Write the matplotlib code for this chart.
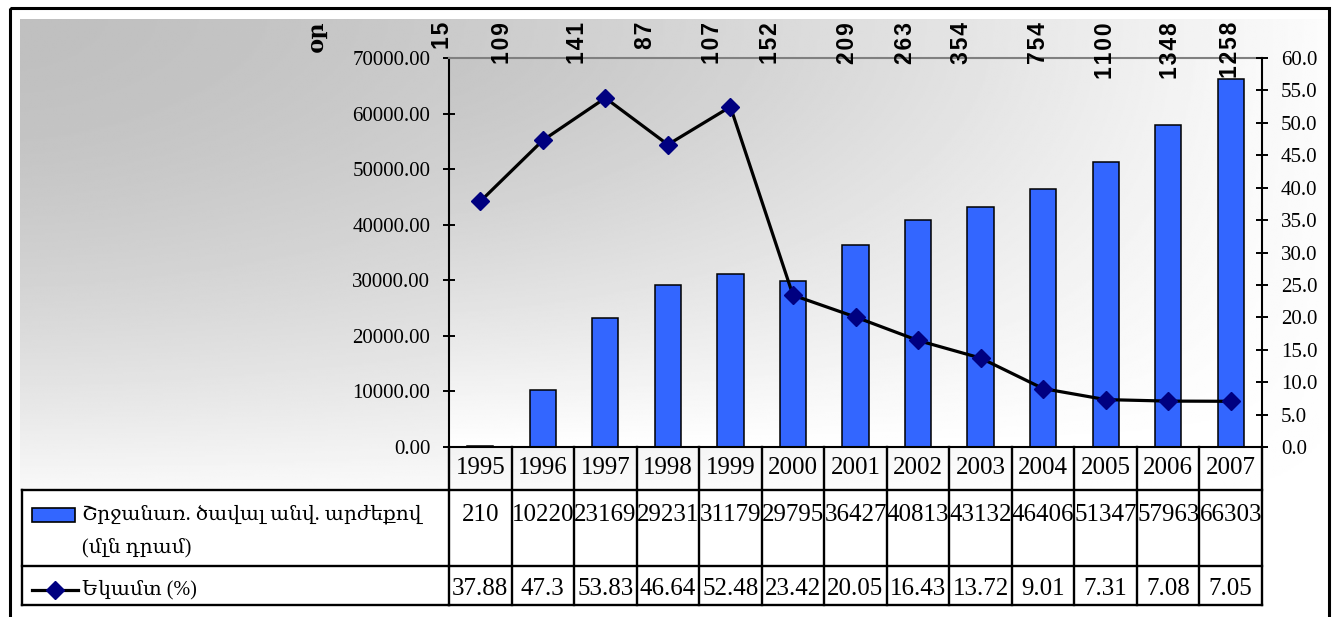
import numpy as np
import matplotlib
matplotlib.use("Agg")
import matplotlib.pyplot as plt
from matplotlib.patches import Rectangle
from matplotlib.lines import Line2D
from matplotlib.ticker import FormatStrFormatter
from matplotlib.transforms import blended_transform_factory

# dane
years = ['1995', '1996', '1997', '1998', '1999', '2000', '2001',
         '2002', '2003', '2004', '2005', '2006', '2007']
turnover = [210, 10220, 23169, 29231, 31179, 29795, 36427,
            40813, 43132, 46406, 51347, 57963, 66303]
yield_pct = [37.88, 47.3, 53.83, 46.64, 52.48, 23.42, 20.05,
             16.43, 13.72, 9.01, 7.31, 7.08, 7.05]
days = [15, 109, 141, 87, 107, 152, 209, 263, 354, 754, 1100, 1348, 1258]

bar_label = ['Շրջանառ. ծավալ անվ. արժեքով', '(մլն դրամ)']
line_label = 'Եկամտ (%)'
days_label = 'օր'

plt.rcParams['font.family'] = ['Liberation Serif', 'DejaVu Serif']

W, H = 1335, 617
fig = plt.figure(figsize=(W / 100, H / 100), dpi=100)

# tlo w pikselach
bg = fig.add_axes([0, 0, 1, 1], zorder=-5)
gx = np.linspace(0, 1, 500)
gy = np.linspace(0, 1, 250)
U, V = np.meshgrid(gx, gy)
t = 1 - (1 - 0.95 * U ** 1.5) * (1 - 0.9 * V ** 1.8)
bg.imshow(0.75 + 0.25 * t, cmap='gray', vmin=0, vmax=1, aspect='auto',
          extent=(20, 1329, 490, 19), interpolation='bilinear')
# obszar wykresu
a = 0.06 + 0.85 * U ** 1.3
b = V ** 1.5
t2 = 1 - (1 - a) * (1 - b)
bg.imshow(0.76 + 0.24 * t2, cmap='gray', vmin=0, vmax=1, aspect='auto',
          extent=(449, 1262, 447, 58), interpolation='bilinear')
bg.set_xlim(0, W)
bg.set_ylim(H, 0)
bg.axis('off')
bg.add_patch(Rectangle((10, 8), 1319, 700, fill=False, ec='black', lw=2.2, clip_on=False))

ax = fig.add_axes([449 / W, 1 - 447 / H, (1262 - 449) / W, (447 - 58) / H])
ax.patch.set_visible(False)
x = np.arange(len(years))

ax.bar(x, turnover, width=0.42, color='#3366ff', edgecolor='black', linewidth=1.1, zorder=2)
ax.set_xlim(-0.5, len(years) - 0.5)
ax.set_ylim(0, 70000)
ax.set_yticks(np.arange(0, 70001, 10000))
ax.yaxis.set_major_formatter(FormatStrFormatter('%.2f'))
ax.set_xticks([])
ax.tick_params(axis='y', direction='inout', length=9, width=1.4, labelsize=15, pad=9)
for s in ['left', 'bottom']:
    ax.spines[s].set_color('black')
    ax.spines[s].set_linewidth(1.5)
ax.spines['top'].set_color('#808080')
ax.spines['top'].set_linewidth(1.5)
ax.spines['right'].set_visible(False)

ax2 = ax.twinx()
ax2.plot(x, yield_pct, color='black', linewidth=2.3, marker='D', markersize=9,
         markerfacecolor='#000080', markeredgecolor='#000080', zorder=3)
ax2.set_ylim(0, 60)
ax2.set_yticks(np.arange(0, 60.1, 5))
ax2.yaxis.set_major_formatter(FormatStrFormatter('%.1f'))
ax2.tick_params(axis='y', direction='inout', length=9, width=1.4, labelsize=15, pad=9)
for s in ['left', 'top', 'bottom']:
    ax2.spines[s].set_visible(False)
ax2.spines['right'].set_linewidth(1.5)

# etykiety dni nad wykresem (lekko rozstrzelone cyfry)
top_shift = [-0.60, -0.64, -0.45, -0.36, -0.29, -0.36, -0.12, -0.20, -0.31, -0.08, 0.0, 0.03, 0.0]
tr_top = blended_transform_factory(ax.transData, bg.transData)
for i, d in enumerate(days):
    fig.text(x[i] + top_shift[i], 22, '\u200a'.join(str(d)), transform=tr_top, rotation=90,
             ha='center', va='top', fontsize=16.5, fontweight='bold',
             family=['Liberation Sans', 'DejaVu Sans'])
fig.text(318, 20, days_label, transform=bg.transData, rotation=90, ha='center',
         va='top', fontsize=16, fontweight='bold')

# tabela
tr = blended_transform_factory(ax.transData, bg.transData)
lw_t = 1.7
edges = np.arange(len(years) + 1) - 0.5
for e in edges:
    fig.add_artist(Line2D([e, e], [447, 605], transform=tr, color='black', lw=lw_t))
for yy in [490, 566, 605]:
    fig.add_artist(Line2D([22, 449], [yy, yy], transform=bg.transData, color='black', lw=lw_t))
    fig.add_artist(Line2D([edges[0], edges[-1]], [yy, yy], transform=tr, color='black', lw=lw_t))
fig.add_artist(Line2D([22, 22], [490, 605], transform=bg.transData, color='black', lw=lw_t))

for i in range(len(years)):
    fig.text(x[i], 468, years[i], transform=tr, ha='center', va='center', fontsize=18)
    fig.text(x[i], 515, str(turnover[i]), transform=tr, ha='center', va='center', fontsize=18)
    fig.text(x[i], 589, f"{yield_pct[i]:g}", transform=tr, ha='center', va='center', fontsize=18)

# legenda w tabeli
bg.add_patch(Rectangle((32, 508), 43, 14, fc='#3366ff', ec='black', lw=1.2, clip_on=False))
bg.text(82, 515, bar_label[0], ha='left', va='center', fontsize=14.5)
bg.text(82, 548, bar_label[1], ha='left', va='center', fontsize=14.5)
bg.add_line(Line2D([32, 78], [590, 590], color='black', lw=2.3, clip_on=False))
bg.add_line(Line2D([55], [590], marker='D', markersize=9, markerfacecolor='#000080',
                   markeredgecolor='#000080', clip_on=False))
bg.text(82, 590, line_label, ha='left', va='center', fontsize=14.5)

fig.savefig('out.png', dpi=100)
